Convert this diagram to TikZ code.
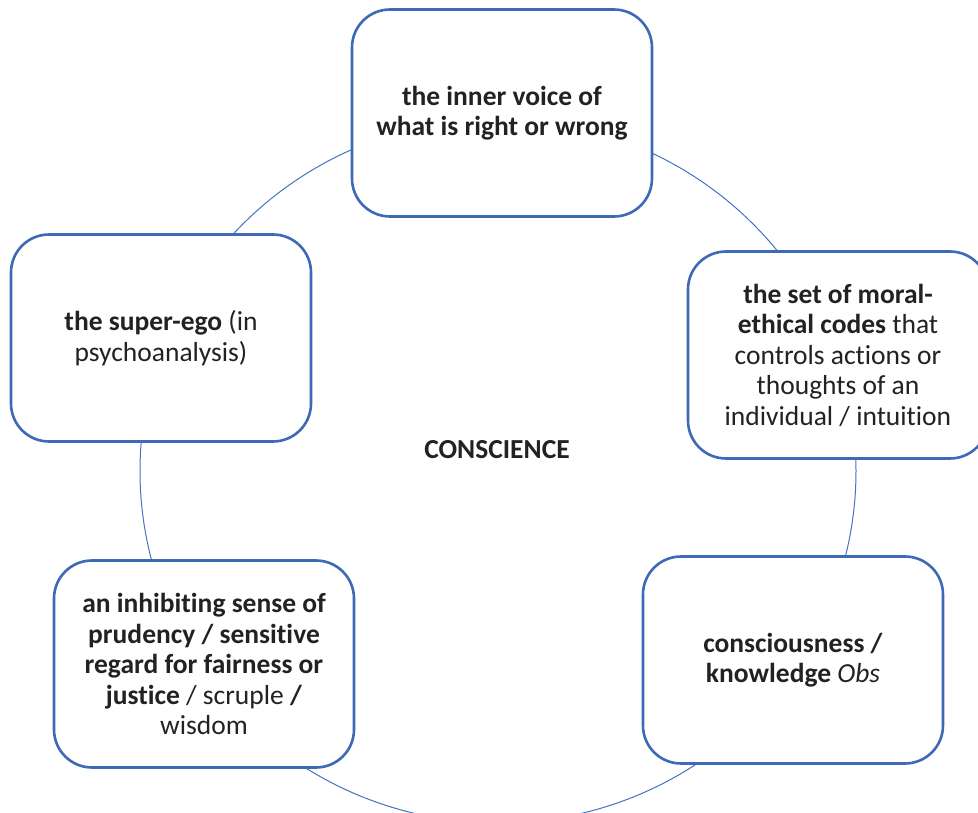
\documentclass[tikz,border=0pt]{standalone}
\usepackage{fontspec}
\setmainfont{Carlito}[Ligatures={NoCommon}]
\definecolor{cycleblue}{HTML}{4472C4}
\definecolor{boxblue}{HTML}{3E69B5}
\definecolor{textgray}{HTML}{222222}
\tikzset{
  cyclebox/.style={draw=boxblue, line width=2.6pt, fill=white, rounded corners=38pt,
    minimum width=300pt, minimum height=207pt, inner sep=0pt, align=center, text=textgray},
  cycleline/.style={draw=cycleblue, line width=1pt},
}
\begin{document}
\begin{tikzpicture}[x=1pt,y=1pt,line join=round,font=\fontsize{27.5}{30.5}\selectfont]
\def \w{978};
\def \h{812};
\useasboundingbox (0,0) rectangle (\w,\h);
\clip (0,0) rectangle (\w,\h);
\coordinate (mid) at (498,341);
\draw[cycleline] (mid) ellipse [x radius=358, y radius=352];

\node[cyclebox] (inner) at (502,699) {\textbf{the inner voice of}\\\textbf{what is right or wrong}};
\node[cyclebox] (codes) at (838,457) {\textbf{the set of moral-}\\\textbf{ethical codes} that\\controls actions or\\thoughts of an\\individual / intuition};
\node[cyclebox] (knowledge) at (793,152) {\textbf{consciousness /}\\\textbf{knowledge} \textit{Obs}};
\node[cyclebox] (prudency) at (204,148) {\textbf{an inhibiting sense of}\\\textbf{prudency / sensitive}\\\textbf{regard for fairness or}\\\textbf{justice} / scruple \textbf{/}\\wisdom};
\node[cyclebox] (superego) at (161,474) {\textbf{the super-ego} (in\\psychoanalysis)};
\node[text=textgray] (conscience) at (497,362) {\textbf{CONSCIENCE}};
\end{tikzpicture}
\end{document}
